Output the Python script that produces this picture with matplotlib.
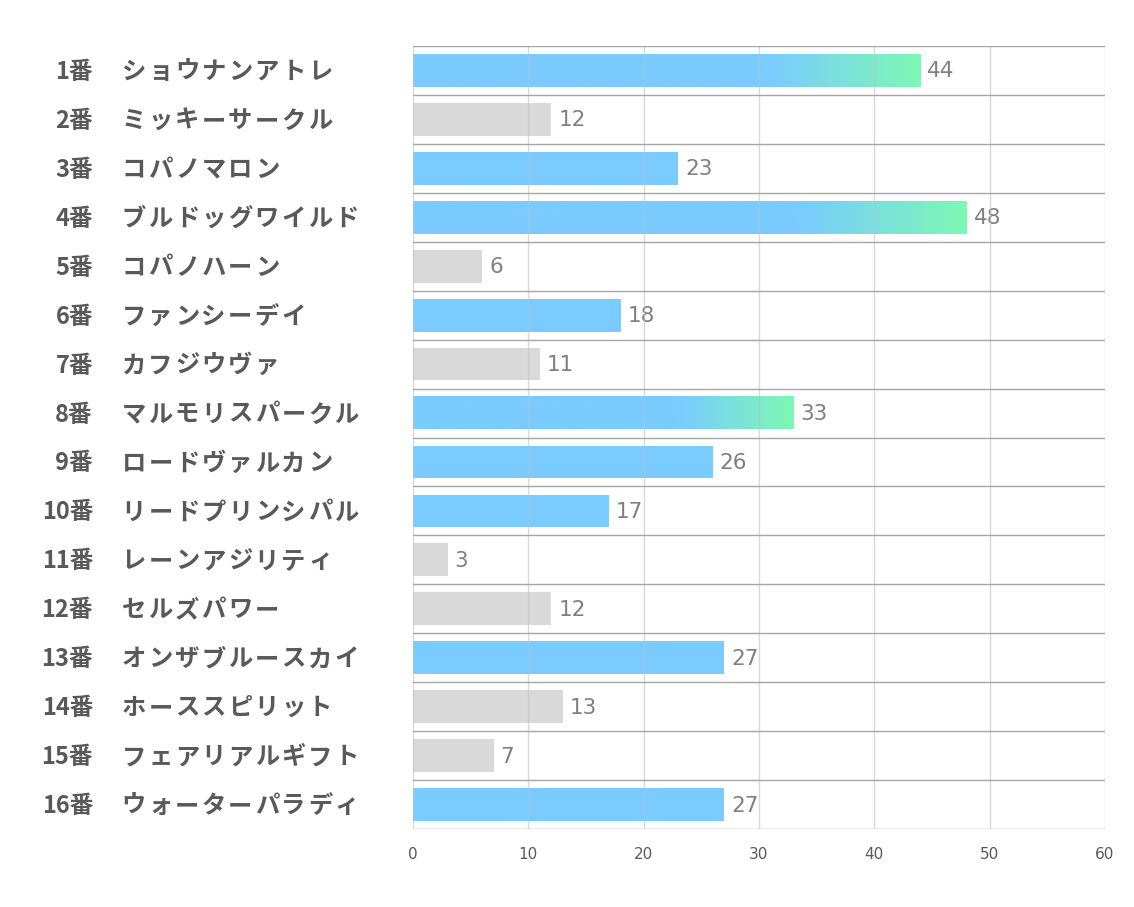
import numpy as np
import matplotlib
matplotlib.use("Agg")
import matplotlib.pyplot as plt
from matplotlib.colors import LinearSegmentedColormap

plt.rcParams["font.family"] = ["Noto Sans CJK JP", "DejaVu Sans"]

# data
numbers = ["1番", "2番", "3番", "4番", "5番", "6番", "7番", "8番",
           "9番", "10番", "11番", "12番", "13番", "14番", "15番", "16番"]
names = ["ショウナンアトレ", "ミッキーサークル", "コパノマロン", "ブルドッグワイルド",
         "コパノハーン", "ファンシーデイ", "カフジウヴァ", "マルモリスパークル",
         "ロードヴァルカン", "リードプリンシパル", "レーンアジリティ", "セルズパワー",
         "オンザブルースカイ", "ホーススピリット", "フェアリアルギフト", "ウォーターパラディ"]
values = [44, 12, 23, 48, 6, 18, 11, 33, 26, 17, 3, 12, 27, 13, 7, 27]
highlight = [1, 0, 1, 1, 0, 1, 0, 1, 1, 1, 0, 0, 1, 0, 0, 1]
gradient = [1, 0, 0, 1, 0, 0, 0, 1, 0, 0, 0, 0, 0, 0, 0, 0]

BLUE = "#7ACBFF"
GREEN = "#7DF8B4"
GREY = "#D9D9D9"
TEXT = "#595959"
VAL = "#7F7F7F"

W, H = 1134, 907
grad_cmap = LinearSegmentedColormap.from_list(
    "bg", [(0.0, BLUE), (0.70, BLUE), (1.0, GREEN)])

fig = plt.figure(figsize=(W / 100, H / 100), dpi=100)
ax = fig.add_axes([413 / W, 1 - 829 / H, 692 / W, 783 / H])

n = len(values)
ys = np.arange(n) + 0.5
h = 0.67
colors = [BLUE if hl else GREY for hl in highlight]
bars = ax.barh(ys, values, height=h, color=colors, zorder=2)

g = np.linspace(0, 1, 256).reshape(1, -1)
for bar, v, gr in zip(bars, values, gradient):
    if gr:
        y0 = bar.get_y()
        ax.imshow(g, cmap=grad_cmap, aspect="auto", zorder=2.5,
                  extent=(0, v, y0 + h, y0), interpolation="bicubic")

for y, v in zip(ys, values):
    ax.text(v + 0.6, y + 0.02, str(v), va="center", ha="left",
            fontsize=15.5, color=VAL, family=["DejaVu Sans"])

ax.set_xlim(0, 60)
ax.set_ylim(n, 0)

for x in range(0, 61, 10):
    ax.axvline(x, color="#BFBFBF", lw=1, alpha=0.6, zorder=3)
for b in range(n + 1):
    ax.axhline(b, color="#A6A6A6", lw=1.0, zorder=3)

for s in ax.spines.values():
    s.set_visible(False)
ax.set_xticks(range(0, 61, 10))
ax.tick_params(axis="x", length=0, pad=13, labelsize=11, labelcolor=TEXT)
ax.set_yticks([])
for lab in ax.get_xticklabels():
    lab.set_family(["DejaVu Sans"])

# row labels: number right-aligned, name with wide letter spacing
pitch = 26.6
for y, num, name in zip(ys, numbers, names):
    yf = 1 - (46 + 1.5 + y * 783 / n) / H
    fig.text(93 / W, yf, num, ha="right", va="center",
             fontsize=17, fontweight="bold", color=TEXT)
    for k, ch in enumerate(name):
        fig.text((122 + pitch * k + pitch / 2 - 1.5) / W, yf, ch, ha="center",
                 va="center", fontsize=17.5, fontweight="bold", color=TEXT)

fig.savefig("out.png", dpi=100)
